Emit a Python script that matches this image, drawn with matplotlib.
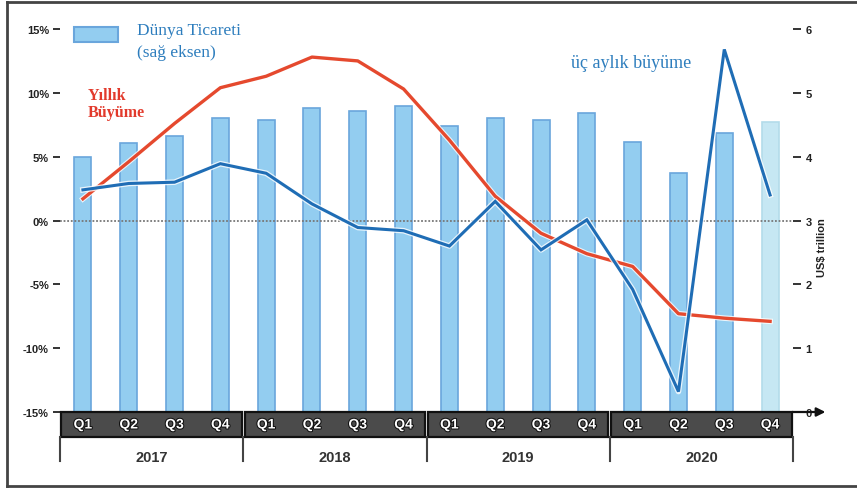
import matplotlib
matplotlib.use("Agg")
import matplotlib.pyplot as plt
import matplotlib.patheffects as pe
from matplotlib.patches import Rectangle
from matplotlib.lines import Line2D
import matplotlib.transforms as mtransforms

quarters = ["Q1", "Q2", "Q3", "Q4"] * 4
years = ["2017", "2018", "2019", "2020"]
trade = [4.0, 4.22, 4.33, 4.6, 4.58, 4.77, 4.72, 4.8,
         4.48, 4.61, 4.58, 4.69, 4.23, 3.75, 4.37, 4.55]
annual = [1.7, 4.6, 7.6, 10.4, 11.3, 12.8, 12.5, 10.3,
          6.3, 1.9, -1.0, -2.6, -3.6, -7.3, -7.65, -7.9]
quarterly = [2.4, 2.9, 3.0, 4.45, 3.7, 1.3, -0.55, -0.8,
             -2.0, 1.5, -2.3, 0.05, -5.4, -13.4, 13.4, 2.0]
left_ticks = [15, 10, 5, 0, -5, -10, -15]
right_ticks = [0, 1, 2, 3, 4, 5, 6]

W, H = 857, 489
fig = plt.figure(figsize=(W / 100, H / 100), dpi=100)
fig.patch.set_facecolor("white")

def fx(px):
    return px / W

def fy(py):
    return 1 - py / H

ax_l, ax_r, ax_t, ax_b = 60, 793, 30, 413
ax = fig.add_axes([fx(ax_l), fy(ax_b), fx(ax_r - ax_l), (ax_b - ax_t) / H])
ax2 = ax.twinx()
ax.set_zorder(2)
ax2.set_zorder(1)
ax.patch.set_visible(False)

x = list(range(len(trade)))
bar_colors = ["#93cdf0"] * 15 + ["#c6e7f3"]
edge_colors = ["#6aa6dc"] * 15 + ["#b3dbea"]
ax2.bar(x, trade, width=0.37, color=bar_colors, edgecolor=edge_colors, linewidth=1.2)
ax2.set_ylim(0, 6)
ax2.set_yticks(right_ticks)

ax.set_xlim(-0.5, 15.5)
ax.set_ylim(-15, 15)
ax.set_yticks(left_ticks)
ax.set_yticklabels([f"{t}%" for t in left_ticks])

for a in (ax, ax2):
    for s in a.spines.values():
        s.set_visible(False)
    a.set_xticks([])

tick_font = dict(family="Liberation Sans", weight="bold", size=8)
ax.tick_params(axis="y", length=5, width=1.4, color="#333333", pad=3, labelcolor="#222222")
ax2.tick_params(axis="y", length=6, width=1.4, color="#333333", pad=3, labelcolor="#222222")
for lab in ax.get_yticklabels() + ax2.get_yticklabels():
    lab.set_fontproperties(matplotlib.font_manager.FontProperties(**tick_font))

# zero line
ax.axhline(0, color="#777777", lw=1.3, ls=(0, (1, 1)), zorder=1)

halo = [pe.Stroke(linewidth=4.0, foreground="white", alpha=0.8, joinstyle="round"), pe.Normal()]
ax.plot(x, annual, color="#e5492e", lw=2.4, zorder=3, path_effects=halo, solid_joinstyle="round")
ax.plot(x, quarterly, color="#1f6db5", lw=2.2, zorder=4, path_effects=halo, solid_joinstyle="miter")

# category band
trans = mtransforms.blended_transform_factory(ax.transData, ax.transAxes)
band_h = 25 / (ax_b - ax_t)
for g, yr in enumerate(years):
    x0 = -0.5 + 4 * g
    ax.add_patch(Rectangle((x0 + 0.03, -band_h), 3.94, band_h, transform=trans,
                           facecolor="#4b4b4b", edgecolor="#111111", lw=1.6, clip_on=False, zorder=5))
    ax.text(x0 + 2, -45 / (ax_b - ax_t), yr, transform=trans, ha="center", va="center",
            fontsize=10.5, fontweight="bold", family="Liberation Sans", color="#333333")
for i, q in enumerate(quarters):
    ax.text(i, -band_h / 2, q, transform=trans, ha="center", va="center", fontsize=10,
            fontweight="bold", family="Liberation Sans", color="white", zorder=6,
            path_effects=[pe.Stroke(linewidth=1.5, foreground="#111111"), pe.Normal()])
for g in range(5):
    xv = -0.5 + 4 * g
    ax.add_line(Line2D([xv, xv], [-band_h, -49 / (ax_b - ax_t)], transform=trans,
                       color="#444444", lw=1.5, clip_on=False, zorder=5))

# arrow at bottom right
ax.annotate("", xy=(1.048, 0), xytext=(0.995, 0), xycoords="axes fraction",
            textcoords="axes fraction",
            arrowprops=dict(arrowstyle="-|>", color="#111111", lw=1.6, mutation_scale=13))

# right axis title
fig.text(fx(822), fy(248), "US$ trillion", rotation=90, ha="center", va="center",
         fontsize=8, fontweight="bold", family="Liberation Sans", color="#222222")

# legend & annotations
fig.patches.append(Rectangle((fx(74), fy(43)), fx(44), 15 / H, transform=fig.transFigure,
                             facecolor="#93cdf0", edgecolor="#6aa6dc", lw=1.5))
blue_txt = "#2d7dbd"
fig.text(fx(137), fy(31), "Dünya Ticareti", ha="left", va="center", fontsize=12.5,
         family="Liberation Serif", color=blue_txt)
fig.text(fx(137), fy(53), "(sağ eksen)", ha="left", va="center", fontsize=12.5,
         family="Liberation Serif", color=blue_txt)
fig.text(fx(88), fy(96), "Yıllık", ha="left", va="center", fontsize=11.5,
         family="Liberation Serif", fontweight="bold", color="#e23a2c")
fig.text(fx(88), fy(113), "Büyüme", ha="left", va="center", fontsize=11.5,
         family="Liberation Serif", fontweight="bold", color="#e23a2c")
fig.text(fx(571), fy(63), "üç aylık büyüme", ha="left", va="center", fontsize=13,
         family="Liberation Serif", color=blue_txt)

# figure frame (top, left, bottom)
for xs, ys in [((7, 857), (3, 3)), ((7, 7), (3, 487)), ((7, 857), (487, 487))]:
    fig.lines.append(Line2D([fx(xs[0]), fx(xs[1])], [fy(ys[0]), fy(ys[1])],
                            transform=fig.transFigure, color="#444444", lw=2))

fig.savefig("out.png", dpi=100)
